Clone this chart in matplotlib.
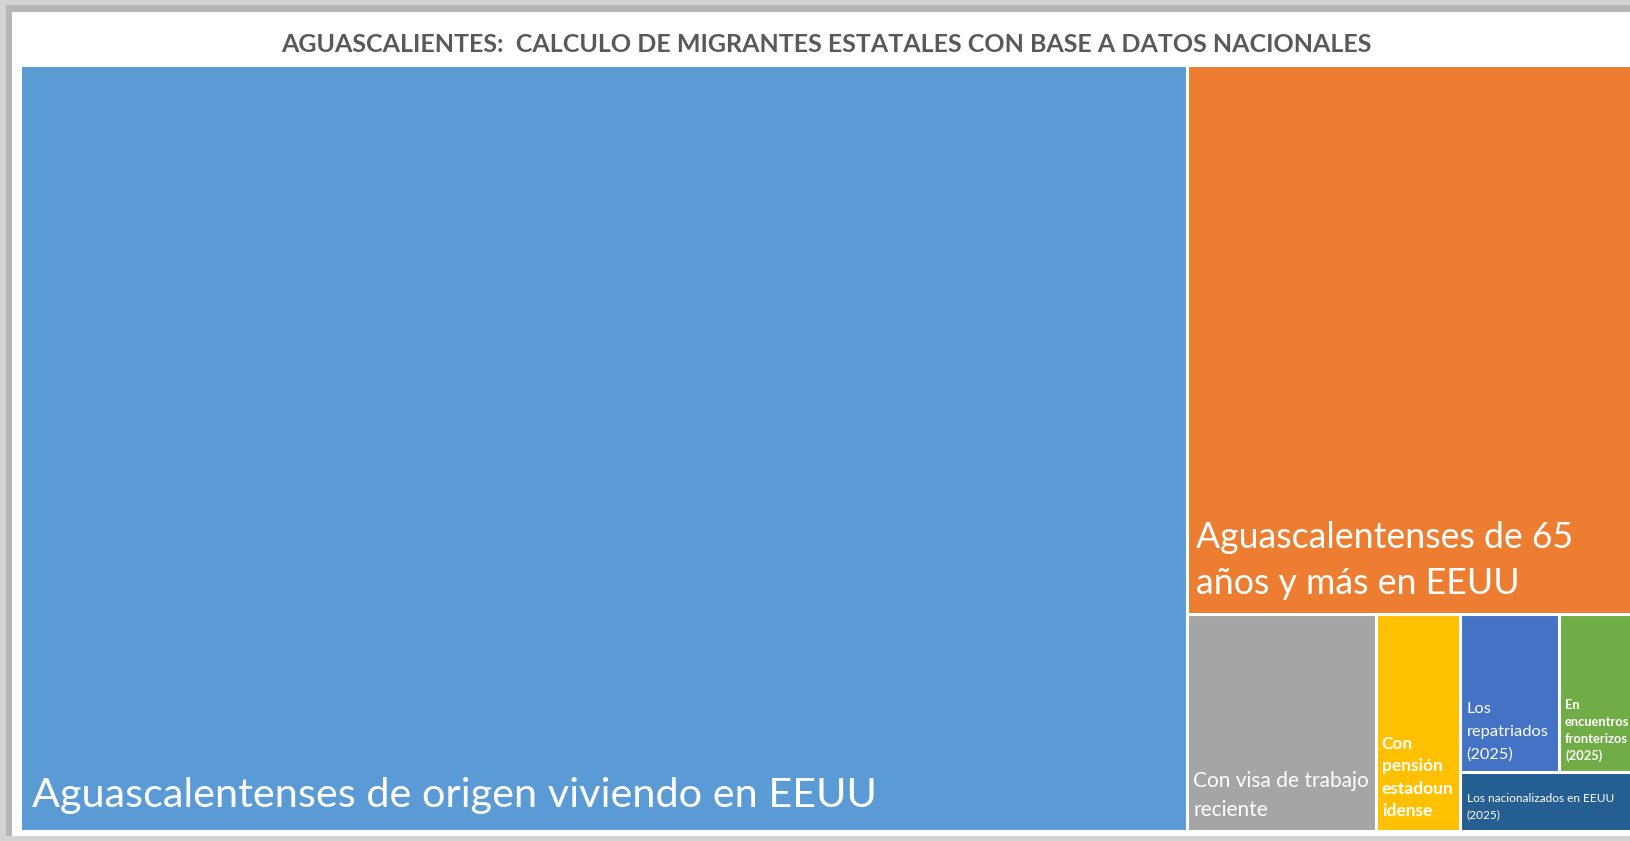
import matplotlib
matplotlib.use('Agg')
import matplotlib.pyplot as plt
from matplotlib.patches import Rectangle

plt.rcParams['font.family'] = ['Lato', 'DejaVu Sans']

# Data: estimated sizes read from the treemap areas
categorias = [
    'Aguascalentenses de origen viviendo en EEUU',
    'Aguascalentenses de 65\naños y más en EEUU',
    'Con visa de trabajo\nreciente',
    'Con\npensión\nestadoun\nidense',
    'Los\nrepatriados\n(2025)',
    'En\nencuentros\nfronterizos\n(2025)',
    'Los nacionalizados en EEUU\n(2025)',
]
valores = [88850, 24340, 4070, 1790, 1560, 1150, 1010]
colores = ['#5B9BD5', '#ED7D31', '#A5A5A5', '#FFC000', '#4472C4', '#70AD47', '#255E91']
titulo = 'AGUASCALIENTES:  CALCULO DE MIGRANTES ESTATALES CON BASE A DATOS NACIONALES'

# label style: font size (pt), weight, line step (x font size), x pad (px), baseline pad (px)
estilos = [
    (29.8, 'normal', 1.3, 11.5, 23.5),
    (25.7, 'normal', 1.29, 8.5, 20.5),
    (15, 'normal', 1.39, 6, 14.5),
    (12.5, 'bold', 1.3, 5.5, 14),
    (11.8, 'normal', 1.38, 7, 13.5),
    (9.3, 'bold', 1.32, 6, 11.5),
    (8.6, 'normal', 1.32, 7, 12.5),
]

# split structure of the treemap (h = side by side, v = stacked)
arbol = ('h', [0, ('v', [1, ('h', [2, 3, ('v', [('h', [4, 5]), 6])])])])


def total(nodo):
    if isinstance(nodo, int):
        return valores[nodo]
    return sum(total(n) for n in nodo[1])


def layout(nodo, x, y, w, h, out):
    if isinstance(nodo, int):
        out[nodo] = (x, y, w, h)
        return
    modo, hijos = nodo
    t = total(nodo)
    for hijo in hijos:
        f = total(hijo) / t
        if modo == 'h':
            layout(hijo, x, y, w * f, h, out)
            x += w * f
        else:
            layout(hijo, x, y, w, h * f, out)
            y += h * f


W, H = 1631, 841
fig = plt.figure(figsize=(W / 100, H / 100), dpi=100, facecolor='#d3d3d3')

# shadowed frame around the chart area
fig.add_artist(Rectangle((6 / W, 1 - 836 / H), 1, (836 - 5) / H, transform=fig.transFigure,
                         facecolor='#b6b6b6', edgecolor='none', zorder=-2))
fig.add_artist(Rectangle((12 / W, 1 - 836 / H), 1, (836 - 12) / H, transform=fig.transFigure,
                         facecolor='white', edgecolor='none', zorder=-1))

ax = fig.add_axes([20.5 / W, 10.5 / H, 1612 / W, 766 / H])
ax.set_xlim(0, 1)
ax.set_ylim(1, 0)
ax.axis('off')

rects = {}
layout(arbol, 0, 0, 1, 1, rects)

for i, (x, y, w, h) in rects.items():
    ax.add_patch(Rectangle((x, y), w, h, facecolor=colores[i], edgecolor='white', linewidth=2.2))
    size, weight, paso, px, py = estilos[i]
    lineas = categorias[i].split('\n')
    for k, linea in enumerate(reversed(lineas)):
        ax.annotate(linea, xy=(x, y + h), xytext=(px, py + k * paso * size * 100 / 72),
                    textcoords='offset pixels', ha='left', va='baseline', fontsize=size,
                    fontweight=weight, color='white', annotation_clip=False)

fig.text(826 / W, 1 - 52 / H, titulo, ha='center', va='baseline', fontsize=18,
         fontweight='bold', color='#595959')

fig.savefig('out.png', dpi=100)
